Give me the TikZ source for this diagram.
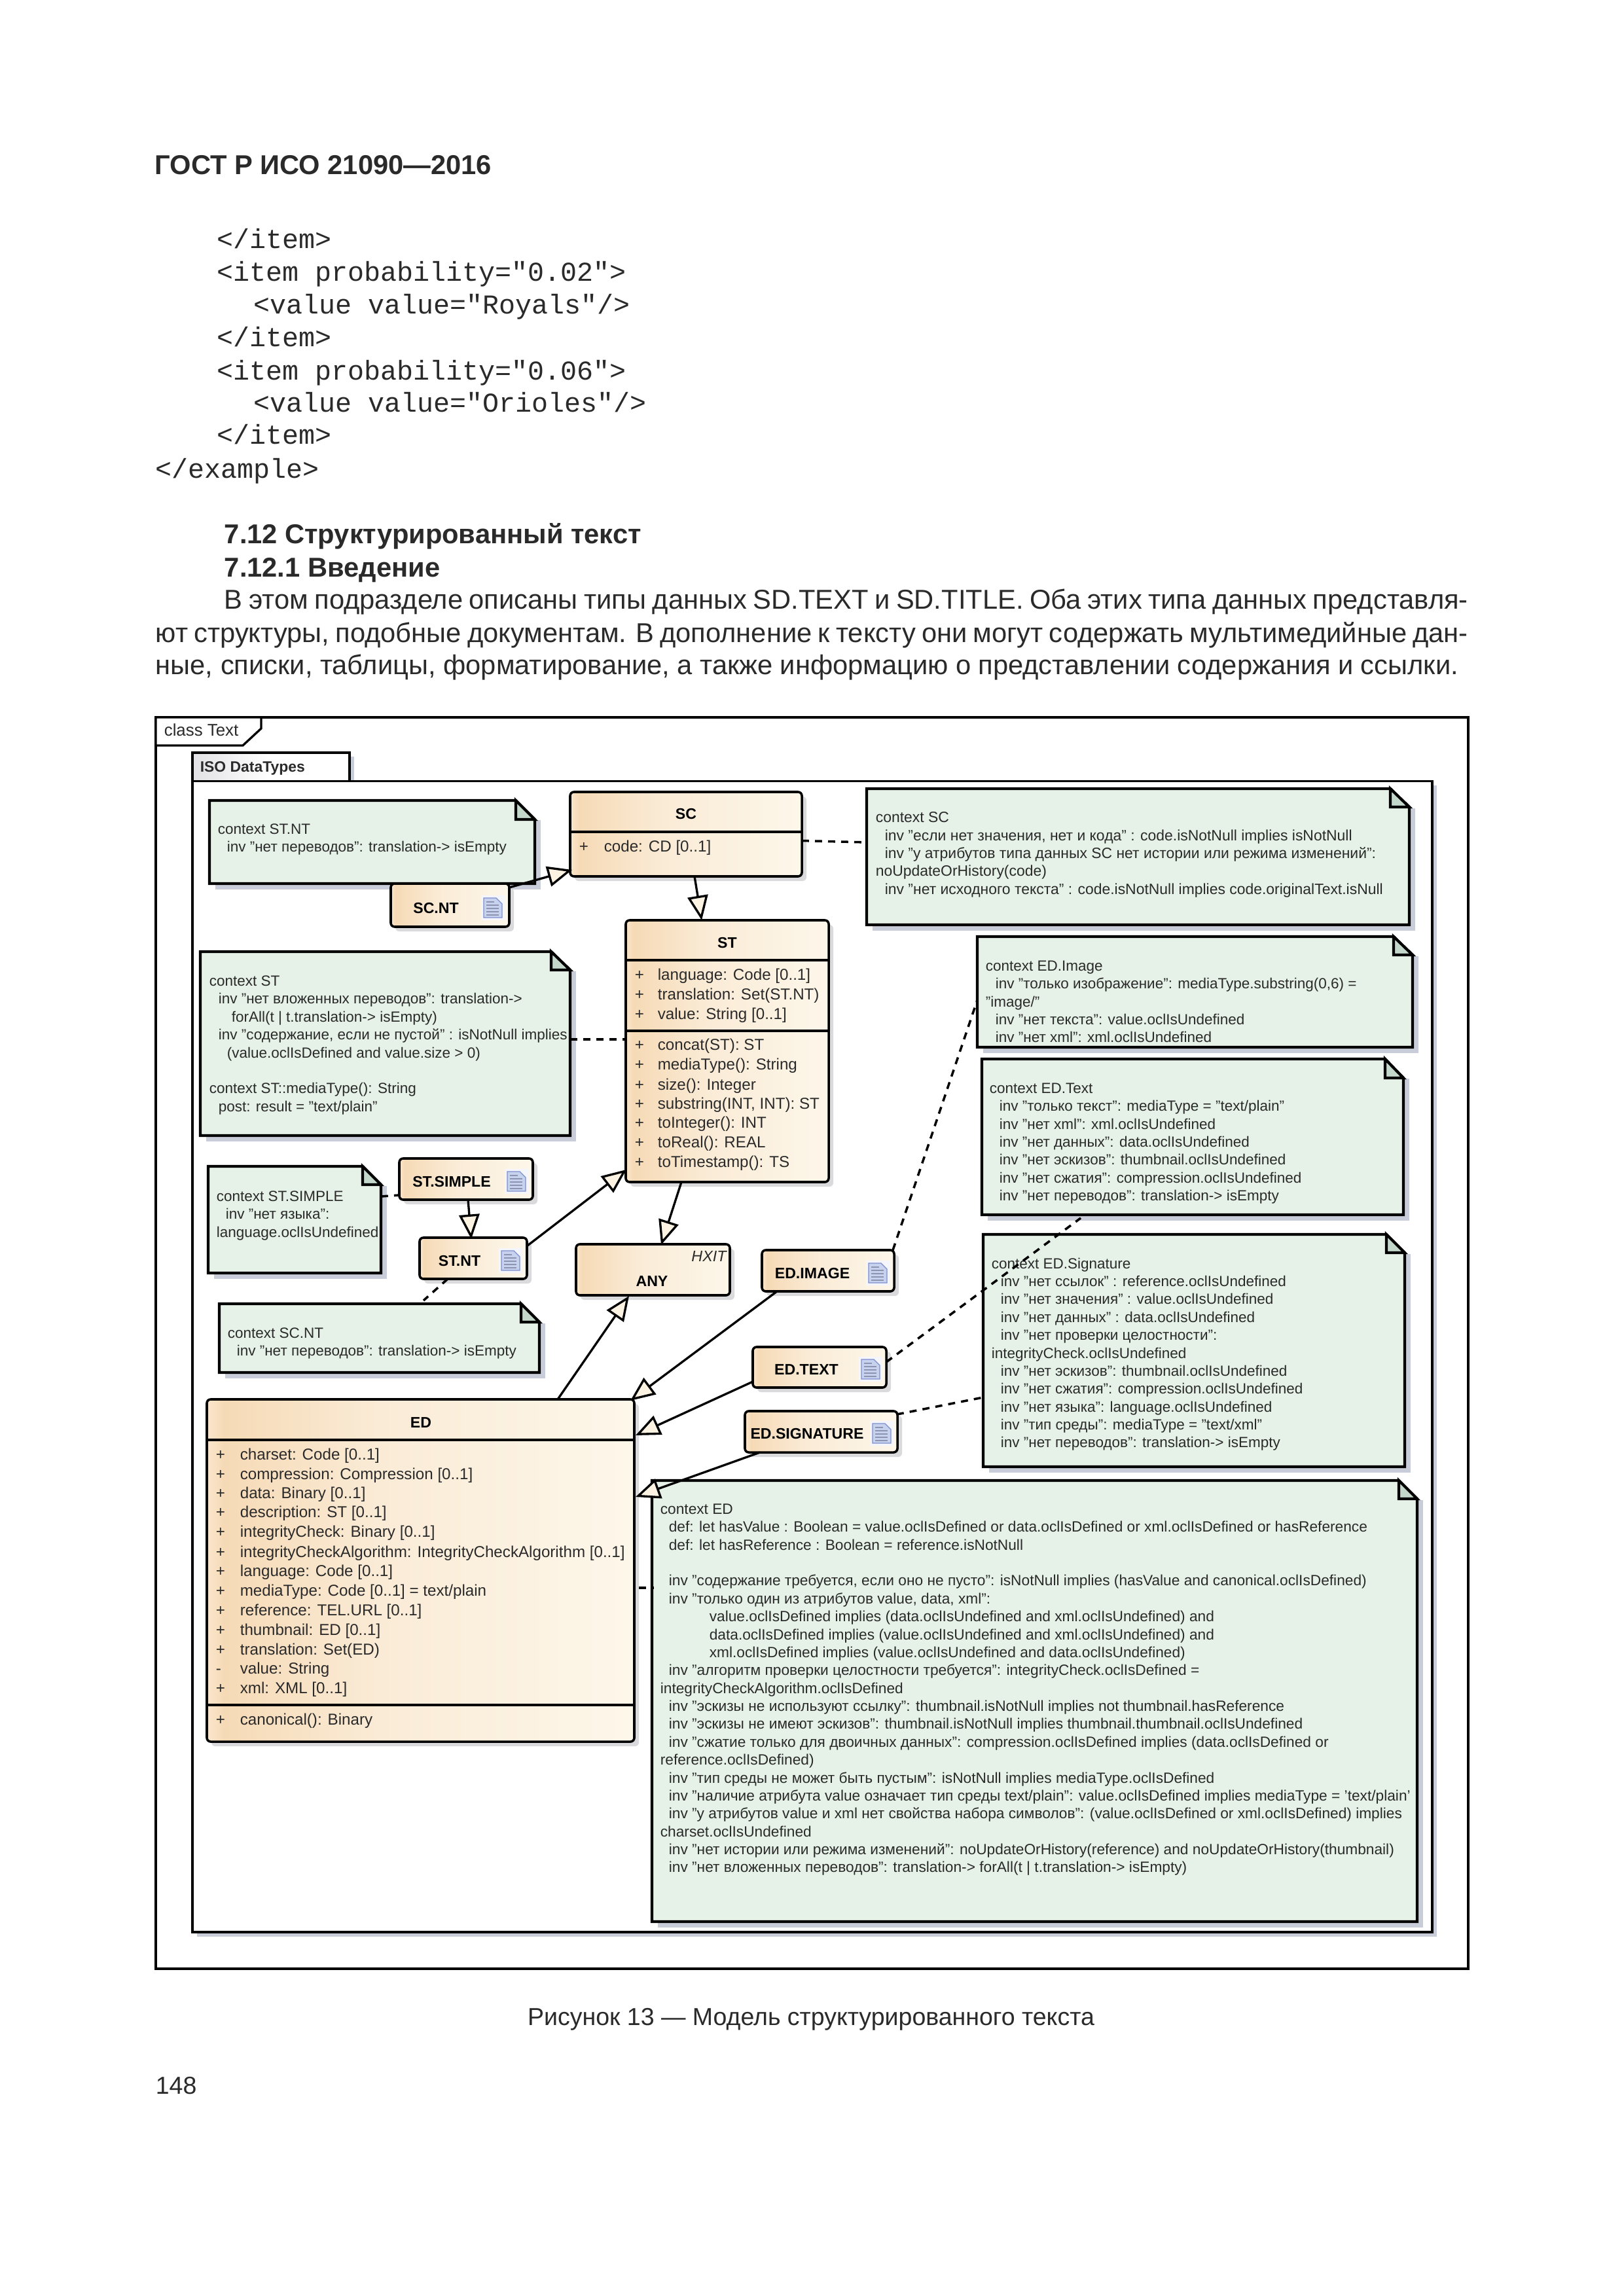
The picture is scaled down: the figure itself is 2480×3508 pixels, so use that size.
\documentclass[tikz,border=0pt]{standalone}
\usepackage{fontspec}
\setmainfont{Liberation Sans}
\newfontfamily\codefont{Liberation Mono}
\usetikzlibrary{arrows.meta}
\definecolor{notefill}{HTML}{E6F2E8}
\definecolor{foldfill}{HTML}{C3D8CB}
\definecolor{shadowc}{HTML}{C9CDDA}
\definecolor{boxshadowc}{HTML}{DADADD}
\definecolor{tipfill}{HTML}{FCF3E3}
\definecolor{inktext}{HTML}{2A2A2A}
\definecolor{gradA}{HTML}{FAE6CC}
\definecolor{gradB}{HTML}{F6DAB6}
\definecolor{gradC}{HTML}{FAEBD6}
\definecolor{gradD}{HTML}{FDF7EA}
\definecolor{tabA}{HTML}{E2E2E6}
\definecolor{iconbg}{HTML}{F4F6FC}
\definecolor{iconbody}{HTML}{C6D2EE}
\definecolor{iconedge}{HTML}{7F8FCB}
\definecolor{iconline}{HTML}{8C94B0}
\pgfdeclarehorizontalshading{umlgrad}{100bp}{
 color(0bp)=(gradA);color(25bp)=(gradA);color(27bp)=(gradB);color(45bp)=(gradC);color(75bp)=(gradD);color(100bp)=(gradD)}
\pgfdeclarehorizontalshading{tabgrad}{100bp}{
 color(0bp)=(tabA);color(25bp)=(tabA);color(50bp)=(white);color(100bp)=(white)}
\tikzset{
 x=0.24pt,y=-0.24pt,
 umlbox/.style={draw=black,line width=.85pt,rounded corners=1.4pt,shading=umlgrad,anchor=north west,inner sep=0pt,outer sep=0pt},
 boxshadow/.style={fill=boxshadowc,rounded corners=1.4pt},
 notearea/.style={anchor=north west,inner sep=0pt,outer sep=0pt},
 noteline/.style={draw=black,line width=1pt,line join=miter,fill=notefill},
 notetext/.style={anchor=north west,inner sep=0pt,align=left,text=inktext,font=\fontsize{5.4}{6.57}\selectfont},
 boxname/.style={inner sep=0pt,text height=4pt,text depth=0pt,font=\fontsize{5.55}{6.5}\selectfont\bfseries,text=black},
 attr/.style={anchor=west,inner sep=0pt,text height=5pt,text depth=.8pt,text=inktext,font=\fontsize{5.8}{6.5}\selectfont},
 genline/.style={draw=black,line width=.8pt,-{Triangle[length=9pt,width=7.5pt,fill=tipfill]}},
 noteconn/.style={draw=black,line width=.85pt,dash pattern=on 2.6pt off 2.2pt},
 sepline/.style={draw=black,line width=.85pt},
 frameline/.style={draw=black,line width=.8pt},
 pagetext/.style={anchor=west,inner sep=0pt,text height=8pt,text depth=.8pt,font=\fontsize{9}{12}\selectfont,text=inktext},
 pagepar/.style={pagetext,font=\fontsize{10}{12}\selectfont},
 pagehead/.style={anchor=west,inner sep=0pt,text height=8pt,text depth=.8pt,font=\fontsize{10}{12}\selectfont\bfseries,text=inktext},
 codetext/.style={anchor=west,inner sep=0pt,text height=8pt,text depth=2pt,font=\fontsize{10}{12}\selectfont\codefont,text=inktext},
}
% name x1 y1 x2 y2
\newcommand\umlrect[5]{%
 \fill[boxshadow] (#2+7,#3+7) rectangle (#4+7,#5+7);
 \pgfmathsetmacro\bw{(#4-#2)*0.24}\pgfmathsetmacro\bh{(#5-#3)*0.24}%
 \node[umlbox,minimum width=\bw pt,minimum height=\bh pt] (#1) at (#2,#3) {};}
% name x1 y1 x2 y2 foldx foldy
\newcommand\umlnote[7]{%
 \fill[shadowc] (#2+9,#3+30) rectangle (#4+9,#5+9);
 \draw[noteline] (#2,#3) -- (#6,#3) -- (#4,#7) -- (#4,#5) -- (#2,#5) -- cycle;
 \draw[noteline,fill=foldfill] (#6,#3) -- (#4,#7) -- (#6,#7) -- cycle;
 \pgfmathsetmacro\bw{(#4-#2)*0.24}\pgfmathsetmacro\bh{(#5-#3)*0.24}%
 \node[notearea,minimum width=\bw pt,minimum height=\bh pt] (#1) at (#2,#3) {};}
% cx cy
\newcommand\docicon[2]{%
 \fill[iconbg] (#1-18,#2-19) rectangle (#1+18,#2+19);
 \fill[iconbody,draw=iconedge,line width=.3pt] (#1-14,#2-15) -- (#1+5,#2-15) -- (#1+14,#2-6) -- (#1+14,#2+15) -- (#1-14,#2+15) -- cycle;
 \draw[iconline,line width=.35pt] (#1-10,#2-9) -- (#1+2,#2-9) (#1-10,#2-4) -- (#1+9,#2-4) (#1-10,#2+1) -- (#1+9,#2+1) (#1-10,#2+6) -- (#1+9,#2+6) (#1-10,#2+11) -- (#1+9,#2+11);}
\newcommand\ind[1]{\hspace*{\dimexpr #1pt*24/100\relax}}
\newcommand\fitline[2]{\hbox to #1pt{\spaceskip=.25em plus .4em minus .12em\relax #2}}
\begin{document}
\begin{tikzpicture}
\useasboundingbox (0,0) rectangle (2480,3508);
\fill[white] (0,0) rectangle (2480,3508);
% page text
\node[pagehead] (hd) at (236,252) {ГОСТ Р ИСО 21090—2016};
\node[codetext] (c1) at (331,367) {</item>};
\node[codetext] (c2) at (331,417) {<item probability="0.02">};
\node[codetext] (c3) at (387,467) {<value value="Royals"/>};
\node[codetext] (c4) at (331,517) {</item>};
\node[codetext] (c5) at (331,568) {<item probability="0.06">};
\node[codetext] (c6) at (387,617) {<value value="Orioles"/>};
\node[codetext] (c7) at (331,666) {</item>};
\node[codetext] (c8) at (237,718) {</example>};
\node[pagehead] (h1) at (342,816) {7.12 Структурированный текст};
\node[pagehead] (h2) at (342,866) {7.12.1 Введение};
\node[pagepar] (p1) at (342,916) {\fitline{456}{В этом подразделе описаны типы данных SD.TEXT и SD.TITLE. Оба этих типа данных представля-}};
\node[pagepar] (p2) at (237,966) {\fitline{481.2}{ют структуры, подобные документам. В дополнение к тексту они могут содержать мультимедийные дан-}};
\node[pagepar] (p3) at (237,1016) {\fitline{477.6}{ные, списки, таблицы, форматирование, а также информацию о представлении содержания и ссылки.}};
\node[pagetext,anchor=center] (cap) at (1239,3079) {Рисунок 13 — Модель структурированного текста};
\node[pagetext] (pn) at (237,3184) {148};
% frames
\draw[frameline] (238,1096) rectangle (2243,3008);
\draw[frameline,fill=white] (238,1096) -- (399,1096) -- (399,1113) -- (371,1139) -- (238,1139) -- cycle;
\node[attr,font=\fontsize{6.2}{6.5}\selectfont] (classtext) at (250,1116) {class Text};
\fill[shadowc] (534,1156) rectangle (541,1193);
\fill[shadowc] (2188,1200) rectangle (2195,2959);
\fill[shadowc] (301,2952) rectangle (2195,2959);
\draw[frameline,shading=tabgrad] (294,1150) rectangle (534,1193.5);
\node[attr,font=\fontsize{5.5}{6.5}\selectfont\bfseries] (isotab) at (305,1171) {ISO DataTypes};
\draw[frameline] (294,1193.5) rectangle (2188,2952);
% notes
\umlnote{nstnt}{320}{1223}{817}{1350}{788}{1252}
\node[notetext] (tstnt) at (332,1258) {context ST.NT\\\ind{14}inv "нет переводов": translation-> isEmpty};
\umlnote{nst}{306}{1454}{871}{1735}{842}{1482}
\node[notetext] (tst) at (319,1490) {context ST\\\ind{14}inv "нет вложенных переводов": translation->\\\ind{34}forAll(t | t.translation-> isEmpty)\\\ind{14}inv "содержание, если не пустой" : isNotNull implies\\\ind{27}(value.oclIsDefined and value.size > 0)\\[6.57pt]context ST::mediaType(): String\\\ind{14}post: result = "text/plain"};
\umlnote{nsimple}{318}{1782}{582}{1945}{554}{1810}
\node[notetext] (tsimple) at (330,1819) {context ST.SIMPLE\\\ind{14}inv "нет языка":\\language.oclIsUndefined};
\umlnote{nscnt}{335}{1992}{824}{2097}{796}{2020}
\node[notetext] (tscnt) at (347,2028) {context SC.NT\\\ind{14}inv "нет переводов": translation-> isEmpty};
\umlnote{nsc}{1324}{1205}{2153}{1413}{2124}{1233}
\node[notetext,font=\fontsize{5.5}{6.57}\selectfont] (tsc) at (1337,1240) {context SC\\\ind{14}inv "если нет значения, нет и кода" : code.isNotNull implies isNotNull\\\ind{14}inv "у атрибутов типа данных SC нет истории или режима изменений":\\noUpdateOrHistory(code)\\\ind{14}inv "нет исходного текста" : code.isNotNull implies code.originalText.isNull};
\umlnote{nimg}{1493}{1431}{2158}{1600}{2129}{1459}
\node[notetext] (timg) at (1505,1467) {context ED.Image\\\ind{15}inv "только изображение": mediaType.substring(0,6) =\\"image/"\\\ind{15}inv "нет текста": value.oclIsUndefined\\\ind{15}inv "нет xml": xml.oclIsUndefined};
\umlnote{ntxt}{1500}{1618}{2144}{1856}{2116}{1647}
\node[notetext] (ttxt) at (1511,1654) {context ED.Text\\\ind{15}inv "только текст": mediaType = "text/plain"\\\ind{15}inv "нет xml": xml.oclIsUndefined\\\ind{15}inv "нет данных": data.oclIsUndefined\\\ind{15}inv "нет эскизов": thumbnail.oclIsUndefined\\\ind{15}inv "нет сжатия": compression.oclIsUndefined\\\ind{15}inv "нет переводов": translation-> isEmpty};
\umlnote{nsig}{1502}{1886}{2146}{2241}{2118}{1914}
\node[notetext] (tsig) at (1514,1921) {context ED.Signature\\\ind{14}inv "нет ссылок" : reference.oclIsUndefined\\\ind{14}inv "нет значения" : value.oclIsUndefined\\\ind{14}inv "нет данных" : data.oclIsUndefined\\\ind{14}inv "нет проверки целостности":\\integrityCheck.oclIsUndefined\\\ind{14}inv "нет эскизов": thumbnail.oclIsUndefined\\\ind{14}inv "нет сжатия": compression.oclIsUndefined\\\ind{14}inv "нет языка": language.oclIsUndefined\\\ind{14}inv "тип среды": mediaType = "text/xml"\\\ind{14}inv "нет переводов": translation-> isEmpty};
\umlnote{ned}{996}{2262}{2165}{2936}{2137}{2290}
\node[notetext,font=\fontsize{5.45}{6.57}\selectfont] (ted) at (1008,2297) {context ED\\\ind{13}def: let hasValue : Boolean = value.oclIsDefined or data.oclIsDefined or xml.oclIsDefined or hasReference\\\ind{13}def: let hasReference : Boolean = reference.isNotNull\\[6.57pt]\ind{13}inv "содержание требуется, если оно не пусто": isNotNull implies (hasValue and canonical.oclIsDefined)\\\ind{13}inv "только один из атрибутов value, data, xml":\\\ind{75}value.oclIsDefined implies (data.oclIsUndefined and xml.oclIsUndefined) and\\\ind{75}data.oclIsDefined implies (value.oclIsUndefined and xml.oclIsUndefined) and\\\ind{75}xml.oclIsDefined implies (value.oclIsUndefined and data.oclIsUndefined)\\\ind{13}inv "алгоритм проверки целостности требуется": integrityCheck.oclIsDefined =\\integrityCheckAlgorithm.oclIsDefined\\\ind{13}inv "эскизы не используют ссылку": thumbnail.isNotNull implies not thumbnail.hasReference\\\ind{13}inv "эскизы не имеют эскизов": thumbnail.isNotNull implies thumbnail.thumbnail.oclIsUndefined\\\ind{13}inv "сжатие только для двоичных данных": compression.oclIsDefined implies (data.oclIsDefined or\\reference.oclIsDefined)\\\ind{13}inv "тип среды не может быть пустым": isNotNull implies mediaType.oclIsDefined\\\ind{13}inv "наличие атрибута value означает тип среды text/plain": value.oclIsDefined implies mediaType = 'text/plain'\\\ind{13}inv "у атрибутов value и xml нет свойства набора символов": (value.oclIsDefined or xml.oclIsDefined) implies\\charset.oclIsUndefined\\\ind{13}inv "нет истории или режима изменений": noUpdateOrHistory(reference) and noUpdateOrHistory(thumbnail)\\\ind{13}inv "нет вложенных переводов": translation-> forAll(t | t.translation-> isEmpty)};
% boxes
\umlrect{sc}{871}{1210}{1225}{1339}
\node[boxname] (scn) at (1048,1243) {SC};
\draw[sepline] (sc.west |- 0,1271) -- (sc.east |- 0,1271);
\node[attr] (sca) at (884,1293) {+};
\node[attr] (scb) at (922,1293) {code: CD [0..1]};
\umlrect{st}{956}{1406}{1266}{1806}
\node[boxname] (stn) at (1111,1440) {ST};
\draw[sepline] (st.west |- 0,1467) -- (st.east |- 0,1467);
\draw[sepline] (st.west |- 0,1575) -- (st.east |- 0,1575);
\foreach \yy/\lab [count=\i] in {1489/{language: Code [0..1]},1519/{translation: Set(ST.NT)},1549/{value: String [0..1]},1596/{concat(ST): ST},1626/{mediaType(): String},1657/{size(): Integer},1686/{substring(INT, INT): ST},1715/{toInteger(): INT},1745/{toReal(): REAL},1775/{toTimestamp(): TS}}{
 \node[attr] (stp\i) at (969,\yy) {+};
 \node[attr] (stt\i) at (1004,\yy) {\lab};
}
\umlrect{scnt}{597}{1350}{778}{1416}
\node[boxname] (scntn) at (666,1387) {SC.NT};
\docicon{753}{1387}
\umlrect{stsimple}{610}{1770}{814}{1833}
\node[boxname] (stsimplen) at (690,1805) {ST.SIMPLE};
\docicon{789}{1805}
\umlrect{stnt}{641}{1891}{805}{1954}
\node[boxname] (stntn) at (702,1926) {ST.NT};
\docicon{780}{1926}
\umlrect{any}{880}{1901}{1115}{1979}
\node[attr,font=\fontsize{5.6}{6.5}\selectfont\itshape,anchor=center,text height=4pt] (anyh) at (1083,1921) {HXIT};
\node[boxname] (anyn) at (996,1957) {ANY};
\umlrect{edimg}{1164}{1910}{1366}{1973}
\node[boxname] (edimgn) at (1241,1945) {ED.IMAGE};
\docicon{1341}{1945}
\umlrect{edtxt}{1150}{2058}{1354}{2120}
\node[boxname] (edtxtn) at (1232,2092) {ED.TEXT};
\docicon{1330}{2092}
\umlrect{edsig}{1138}{2156}{1371}{2219}
\node[boxname] (edsign) at (1233,2190) {ED.SIGNATURE};
\docicon{1347}{2190}
\umlrect{ed}{316}{2138}{969}{2661}
\node[boxname] (edn) at (643,2173) {ED};
\draw[sepline] (ed.west |- 0,2200) -- (ed.east |- 0,2200);
\draw[sepline] (ed.west |- 0,2605) -- (ed.east |- 0,2605);
\foreach \yy/\pp/\lab [count=\i] in {2222/+/{charset: Code [0..1]},2252/+/{compression: Compression [0..1]},2281/+/{data: Binary [0..1]},2310/+/{description: ST [0..1]},2340/+/{integrityCheck: Binary [0..1]},2371/+/{integrityCheckAlgorithm: IntegrityCheckAlgorithm [0..1]},2400/+/{language: Code [0..1]},2430/+/{mediaType: Code [0..1] = text/plain},2460/+/{reference: TEL.URL [0..1]},2490/+/{thumbnail: ED [0..1]},2520/+/{translation: Set(ED)},2549/-/{value: String},2579/+/{xml: XML [0..1]},2627/+/{canonical(): Binary}}{
 \node[attr] (edp\i) at (329,\yy) {\pp};
 \node[attr] (edt\i) at (366,\yy) {\lab};
}
% connectors
\draw[genline] ([shift={(0,6)}]scnt.north east) -- ([shift={(3,-10)}]sc.south west);
\draw[genline] ([shift={(190,0)}]sc.south west) -- ([shift={(116,0)}]st.north west);
\draw[genline] ([shift={(105,0)}]stsimple.south west) -- ([shift={(79,2)}]stnt.north west);
\draw[genline] ([shift={(1,12)}]stnt.north east) -- ([shift={(1,-19)}]st.south west);
\draw[genline] ([shift={(85,0)}]st.south west) -- ([shift={(130,1)}]any.north west);
\draw[genline] ([shift={(536,0)}]ed.north west) -- ([shift={(81,1)}]any.south west);
\draw[genline] ([shift={(23,0)}]edimg.south west) -- ([shift={(-6,2)}]ed.north east);
\draw[genline] ([shift={(0,-9)}]edtxt.south west) -- ([shift={(2,55)}]ed.north east);
\draw[genline] ([shift={(23,0)}]edsig.south west) -- ([shift={(2,149)}]ed.north east);
\coordinate (txtend) at (1651,1861);
\coordinate (txtbend) at (1504,1970);
\draw[noteconn] ([shift={(0,10)}]sc.east) -- (nsc.west |- 0,1287);
\draw[noteconn] (nst.east |- 0,1588) -- (st.west |- 0,1588);
\draw[noteconn] (nsimple.east |- 0,1828) -- ([shift={(0,-1)}]stsimple.west |- 0,1827);
\draw[noteconn] ([shift={(43,0)}]stnt.south west) -- ([shift={(312,-5)}]nscnt.north west);
\draw[noteconn] ([shift={(-2,0)}]edimg.north east) -- ([shift={(0,97)}]nimg.north west);
\draw[noteconn] ([shift={(0,23)}]edtxt.north east) -- (txtbend) -- (txtend);
\draw[noteconn] ([shift={(-1,5)}]edsig.north east) -- ([shift={(0,249)}]nsig.north west);
\draw[noteconn] ([shift={(7,288)}]ed.north east) -- ([shift={(3,164)}]ned.north west);
\end{tikzpicture}
\end{document}
